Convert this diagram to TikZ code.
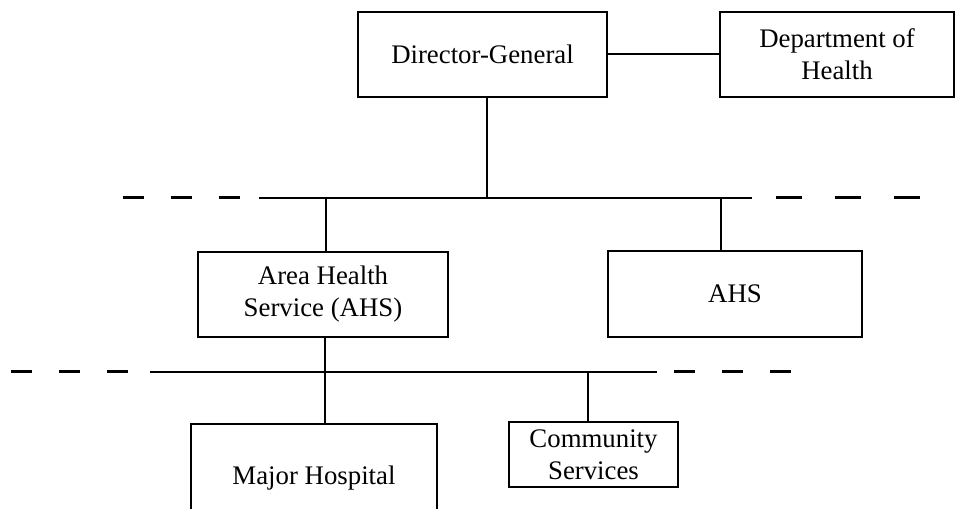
\documentclass[tikz,border=0pt]{standalone}
\usepackage{fontspec}
\setmainfont{Liberation Serif}
\begin{document}
\begin{tikzpicture}[x=0.5pt, y=-0.5pt,
        unit/.style={rectangle, draw, line width=1.4pt, align=center, inner sep=0pt, font=\fontsize{13.4}{16}\selectfont},
        line/.style={draw, line width=1pt},
        gap/.style={draw, line width=1.1pt, dash pattern=on 10.5pt off 13.5pt},
        widegap/.style={draw, line width=1.1pt, dash pattern=on 13pt off 16.5pt}]

        \useasboundingbox (0,0) rectangle (956,508);
        \clip (0,0) rectangle (956,508);

        \node [unit, minimum width=124.5pt, minimum height=42.5pt] (dg) at (482.5,54.5) {Director-General};
        \node [unit, minimum width=117pt, minimum height=42.5pt] (doh) at (837,54.5) {Department of \\ Health};
        \node [unit, minimum width=125pt, minimum height=42.5pt] (area) at (323,294.5) {Area Health \\ Service (AHS)};
        \node [unit, minimum width=127pt, minimum height=43pt] (ahs) at (735,294) {AHS};
        \node [unit, minimum width=123pt, minimum height=54pt] (hospital) at (314,478) {Major Hospital};
        \node [unit, minimum width=84.5pt, minimum height=32.5pt] (community) at (593.5,454.5) {Community \\ Services};

        \coordinate (busA) at (259,197.5);
        \coordinate (busB) at (752,197.5);
        \coordinate (busC) at (150,371.5);
        \coordinate (busD) at (657,371.5);
        \coordinate (dgdrop) at (487,197.5);
        \coordinate (areadrop) at (326,197.5);
        \coordinate (ahsdrop) at (721,197.5);
        \coordinate (hospdrop) at (325,371.5);
        \coordinate (commdrop) at (588,371.5);

        \path [line] (dg) -- (doh);
        \path [line] (busA) -- (busB);
        \path [line] (busC) -- (busD);
        \path [gap] (123,197.5) -- (240,197.5);
        \path [widegap] (776,197.5) -- (920,197.5);
        \path [gap] (11,371.5) -- (128,371.5);
        \path [gap] (674,371.5) -- (791,371.5);

        \path [line] (dg.south -| dgdrop) -- (dgdrop);
        \path [line] (areadrop) -- (areadrop |- area.north);
        \path [line] (ahsdrop) -- (ahsdrop |- ahs.north);
        \path [line] (area.south -| hospdrop) -- (hospdrop |- hospital.north);
        \path [line] (commdrop) -- (commdrop |- community.north);
    \end{tikzpicture}
\end{document}
